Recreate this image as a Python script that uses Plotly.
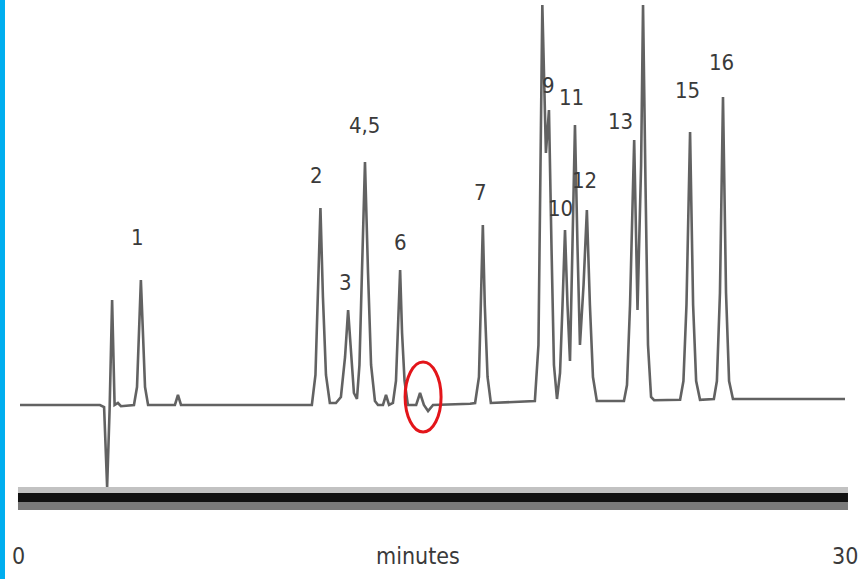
import plotly.graph_objects as go

# Chromatogram trace: retention time (minutes) and detector signal (arbitrary units)
time_min = [
    0.18, 3.07, 3.22, 3.33, 3.42, 3.51, 3.60, 3.72, 3.83, 4.27,
    4.30, 4.41, 4.48, 4.55, 4.63, 4.70, 4.81, 5.78, 5.89, 6.00,
    10.48, 10.73, 10.86, 10.95, 11.04, 11.13, 11.24, 11.38, 11.60,
    11.78, 11.93, 12.04, 12.15, 12.25, 12.36,
    12.45, 12.54, 12.65, 12.76, 12.87, 13.01, 13.12, 13.30, 13.41, 13.52,
    13.66, 13.77, 13.84, 13.92, 13.99, 14.08, 14.20,
    14.50, 14.64, 14.78, 14.93, 15.11, 16.45,
    16.63, 16.77, 16.84, 16.91, 16.98, 17.08, 17.20, 18.61,
    18.79, 18.92, 18.99, 19.06, 19.19, 19.30, 19.39, 19.48, 19.59,
    19.70, 19.79, 19.88, 19.97, 20.06, 20.15, 20.24, 20.33, 20.42,
    20.55, 20.67, 20.78, 20.89, 21.03, 21.14, 22.01,
    22.12, 22.23, 22.38, 22.50, 22.63, 22.70, 22.79, 22.88, 22.99, 23.10,
    24.04, 24.16, 24.27, 24.40, 24.51, 24.62, 24.76,
    25.26, 25.37, 25.48, 25.59, 25.70, 25.81, 25.95, 30.0,
]
signal = [
    0, 0, -0.5, -20.5, -1, 26.25, 0, 0.5, -0.3, 0,
    0, 4.5, 17, 31.25, 17, 4.5, 0, 0, 2.5, 0,
    0, 0, 7.5, 27, 49.25, 27, 7.5, 0.5, 0.5,
    2, 12, 23.75, 12, 3, 1.5,
    10, 33, 60.75, 33, 10, 1, 0, 0, 2.5, 0,
    0.5, 6, 18, 33.75, 18, 6, 0,
    0, 3, 0, -1.5, 0, 0.3,
    0.5, 7, 25, 45, 25, 7, 0.5, 0.8,
    1, 15, 55, 100, 63, 73.75, 40, 10, 1.5,
    8, 25, 43.75, 25, 11, 40, 70, 40, 15,
    30, 48.75, 25, 7, 1, 1, 1,
    5, 25, 66.25, 23.75, 60, 100, 55, 15, 2, 1.2,
    1.3, 6, 25, 68.25, 25, 6, 1.3,
    1.5, 6, 28, 77, 28, 6, 1.5, 1.5,
]

# Peak labels and where they sit
peak_labels = ["1", "2", "3", "4,5", "6", "7", "9", "10", "11", "12", "13", "15", "16"]
label_time = [4.41, 10.88, 11.96, 12.65, 13.92, 16.84, 19.27, 19.70, 20.13, 20.60, 21.87, 24.29, 25.52]
label_signal = [42, 57.5, 30.75, 70, 40.75, 53.25, 80, 49.25, 77, 56.25, 71, 78.75, 85.75]

# Axis ticks
tick_vals = [0, 30]
tick_text = ["0", "30"]
axis_title = "minutes"

# Highlighted small peak (red ellipse)
circle_time = [14.10, 15.40]
circle_signal = [-6.75, 10.75]

FONT = "DejaVu Sans Condensed, Liberation Sans Narrow, Arial Narrow, sans-serif"

fig = go.Figure()
fig.add_trace(go.Scatter(
    x=time_min, y=signal, mode="lines",
    line=dict(color="#626262", width=2.6),
    hoverinfo="skip", showlegend=False,
))

annotations = []
for txt, tx, sy in zip(peak_labels, label_time, label_signal):
    annotations.append(dict(
        x=tx, y=sy, xref="x", yref="y", text=txt, showarrow=False,
        font=dict(family=FONT, size=22, color="#3a3a3a"),
        xanchor="center", yanchor="middle",
    ))
for tv, tt in zip(tick_vals, tick_text):
    annotations.append(dict(
        x=tv, y=-0.118, xref="x", yref="paper", text=tt, showarrow=False,
        font=dict(family=FONT, size=23, color="#3a3a3a"),
        xanchor="center", yanchor="middle", xshift=3 if tv == 0 else 0,
    ))
annotations.append(dict(
    x=0.4855, y=-0.118, xref="paper", yref="paper", text=axis_title, showarrow=False,
    font=dict(family=FONT, size=23, color="#3a3a3a"),
    xanchor="center", yanchor="middle",
))

shapes = [
    # left blue bar
    dict(type="rect", xref="paper", yref="paper", x0=-0.01807, x1=-0.01205, y0=-0.166, y1=1.0,
         fillcolor="#00AEEF", line=dict(width=0), layer="above"),
    # thick bottom bar (gray / black / gray)
    dict(type="rect", xref="paper", yref="paper", x0=0.0036, x1=1.0036, y0=0.00805, y1=0.0201,
         fillcolor="#c2c2c2", line=dict(width=0)),
    dict(type="rect", xref="paper", yref="paper", x0=0.0036, x1=1.0036, y0=-0.01006, y1=0.00805,
         fillcolor="#111111", line=dict(width=0)),
    dict(type="rect", xref="paper", yref="paper", x0=0.0036, x1=1.0036, y0=-0.02616, y1=-0.01006,
         fillcolor="#7a7a7a", line=dict(width=0)),
    # red ellipse
    dict(type="circle", xref="x", yref="y",
         x0=circle_time[0], x1=circle_time[1], y0=circle_signal[0], y1=circle_signal[1],
         line=dict(color="#e3151a", width=3), fillcolor="rgba(0,0,0,0)", layer="above"),
]

fig.update_layout(
    width=864, height=579,
    margin=dict(l=15, r=19, t=0, b=82),
    paper_bgcolor="white", plot_bgcolor="white",
    xaxis=dict(range=[0, 30], showgrid=False, zeroline=False, showline=False,
               showticklabels=False, ticks="", fixedrange=True),
    yaxis=dict(range=[-23, 101.25], showgrid=False, zeroline=False, showline=False,
               showticklabels=False, ticks="", fixedrange=True),
    annotations=annotations,
    shapes=shapes,
    showlegend=False,
)

fig.write_html(
    "out.html",
    config={"displayModeBar": False},
    post_script="document.body.style.margin='0';document.body.style.overflow='hidden';",
)
